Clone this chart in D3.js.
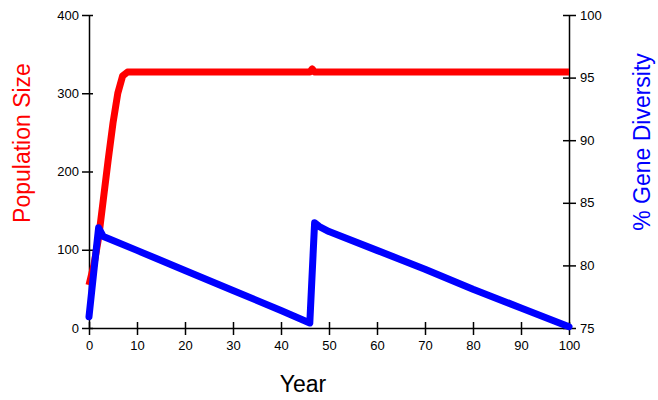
<!DOCTYPE html>
<html>
<head>
<meta charset="utf-8">
<script src="https://cdn.jsdelivr.net/npm/d3@7"></script>
<style>
  body { margin: 0; background: #fff; }
  svg { display: block; }
  .axis text { font-family: "Liberation Sans", Arial, sans-serif; font-size: 13px; fill: #000; }
  .axis path, .axis line { stroke: #000; stroke-width: 1.5px; }
</style>
</head>
<body>
<div id="chart"></div>
<script>
// years / values
const popYears = [0, 1, 2, 3, 4, 5, 6, 7, 8, 46, 46.5, 47, 100]
const popValues = [55, 80, 115, 165, 215, 262, 300, 322, 327, 327, 331, 327, 327]

const divYears = [0, 1, 2, 3, 10, 20, 30, 40, 46, 47, 48, 50, 60, 70, 80, 90, 100]
const divValues = [75.9, 79.5, 83.0, 82.3, 81.2, 79.6, 78.0, 76.4, 75.4, 83.4, 83.1, 82.7, 81.2, 79.7, 78.1, 76.6, 75.1]

const xTicks = [0, 10, 20, 30, 40, 50, 60, 70, 80, 90, 100]
const popTicks = [0, 100, 200, 300, 400]
const divTicks = [75, 80, 85, 90, 95, 100]

let outerWidth = 658
let outerHeight = 400
let margin = {top: 15, bottom: 72, left: 89, right: 89}
let width = outerWidth - margin.left - margin.right
let height = outerHeight - margin.top - margin.bottom

const svg = d3.select("#chart")
    .append("svg")
    .attr("width", outerWidth)
    .attr("height", outerHeight)

const g = svg.append("g")
    .attr("transform", `translate(${margin.left}, ${margin.top})`)

const x = d3.scaleLinear().domain([0, 100]).range([0, width])
const yPop = d3.scaleLinear().domain([0, 400]).range([height, 0])
const yDiv = d3.scaleLinear().domain([75, 100]).range([height, 0])

// axes, ticks cross the axis line
const xAxis = g.append("g")
    .attr("class", "axis")
    .attr("transform", `translate(0, ${height})`)
    .call(d3.axisBottom(x).tickValues(xTicks).tickSize(7).tickSizeOuter(0).tickPadding(6))
xAxis.selectAll(".tick line").attr("y1", -6)

const leftAxis = g.append("g")
    .attr("class", "axis")
    .call(d3.axisLeft(yPop).tickValues(popTicks).tickSize(7).tickSizeOuter(0).tickPadding(4))
leftAxis.selectAll(".tick line").attr("x1", 4)
leftAxis.selectAll(".tick text").attr("x", -10)

const rightAxis = g.append("g")
    .attr("class", "axis")
    .attr("transform", `translate(${width}, 0)`)
    .call(d3.axisRight(yDiv).tickValues(divTicks).tickSize(7).tickSizeOuter(0).tickPadding(4))
rightAxis.selectAll(".tick line").attr("x1", -6)
rightAxis.selectAll(".tick text").attr("x", 11)

// lines
const popLine = d3.line()
    .x((d, i) => x(popYears[i]))
    .y(d => yPop(d))

const divLine = d3.line()
    .x((d, i) => x(divYears[i]))
    .y(d => yDiv(d))

g.append("path")
    .datum(popValues)
    .attr("d", popLine)
    .attr("fill", "none")
    .attr("stroke", "#ff0000")
    .attr("stroke-width", 7)
    .attr("stroke-linejoin", "round")

g.append("path")
    .datum(divValues)
    .attr("d", divLine)
    .attr("fill", "none")
    .attr("stroke", "#0000ff")
    .attr("stroke-width", 7)
    .attr("stroke-linejoin", "round")
    .attr("stroke-linecap", "round")

// axis titles
const titleFont = "'Liberation Sans', Arial, sans-serif"

svg.append("text")
    .attr("x", margin.left + width / 2 - 26)
    .attr("y", 392)
    .attr("text-anchor", "middle")
    .style("font-family", titleFont)
    .style("font-size", "23px")
    .attr("fill", "#000")
    .text("Year")

svg.append("text")
    .attr("transform", "translate(30, 143) rotate(-90)")
    .attr("text-anchor", "middle")
    .style("font-family", titleFont)
    .style("font-size", "23px")
    .attr("fill", "#ff0000")
    .text("Population Size")

svg.append("text")
    .attr("transform", "translate(650, 142) rotate(-90)")
    .attr("text-anchor", "middle")
    .style("font-family", titleFont)
    .style("font-size", "23px")
    .attr("fill", "#0000ff")
    .text("% Gene Diversity")
</script>
</body>
</html>
